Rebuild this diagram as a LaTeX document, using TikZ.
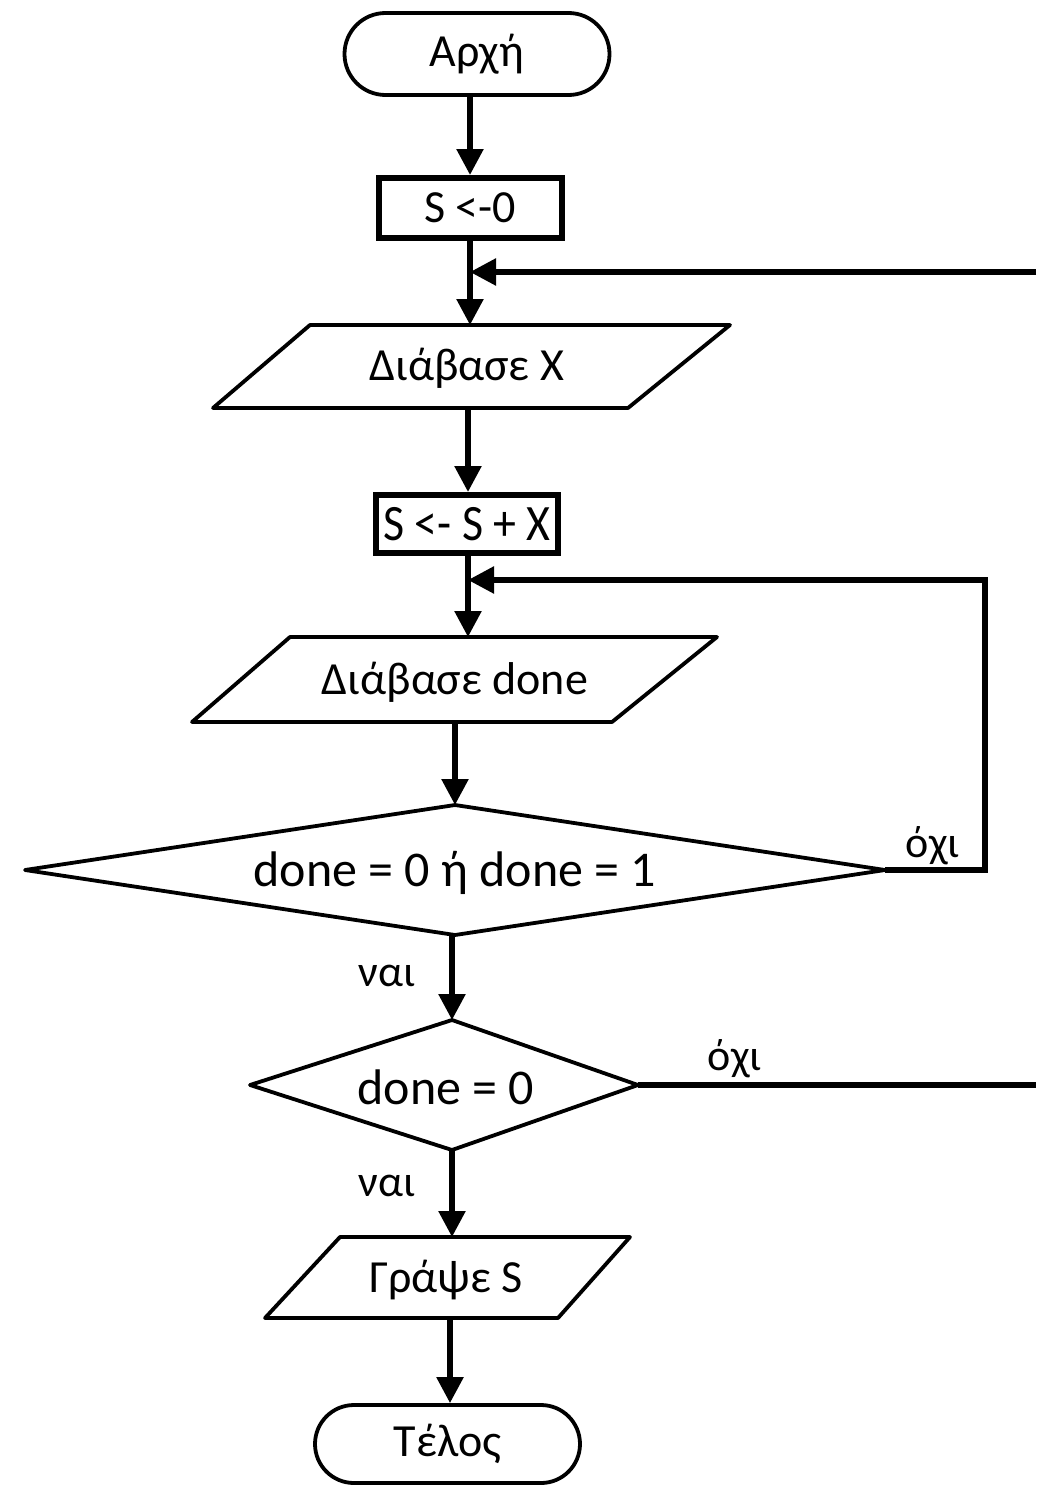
\documentclass[tikz,border=0pt]{standalone}
\usepackage{fontspec}
\setmainfont{Carlito}
\usetikzlibrary{arrows.meta,calc}
\begin{document}
\begin{tikzpicture}[x=1pt,y=-1pt,
  line/.style={line width=5.5pt},
  arr/.style={line width=5.5pt,-{Triangle[width=26pt,length=26pt]}},
  shp/.style={line width=3.8pt,line join=round},
  boxs/.style={draw,line width=6pt,inner sep=0pt,font=\fontsize{46}{50}\selectfont},
  txt/.style={inner sep=0pt,font=\fontsize{46}{50}\selectfont},
  big/.style={inner sep=0pt,font=\fontsize{50}{54}\selectfont},
  lbl/.style={inner sep=0pt,font=\fontsize{44}{48}\selectfont}
]
\useasboundingbox (0,0) rectangle (1036,1485);
\clip (0,0) rectangle (1036,1485);
\fill[white] (0,0) rectangle (1036,1485);

% start
\node[shp,draw,rounded corners=41pt,minimum width=265pt,minimum height=82pt,txt] (start) at (477,54) {Αρχή};
% S <- 0
\node[boxs,minimum width=183pt,minimum height=60pt] (s0) at (470,208) {S <-0};
% parallelogram 1
\coordinate (p1a) at (310,325); \coordinate (p1b) at (730,325);
\coordinate (p1c) at (628,408); \coordinate (p1d) at (213,408);
\draw[shp] (p1a) -- (p1b) -- (p1c) -- (p1d) -- cycle;
\node[txt] (p1) at (467,368) {Διάβασε X};
\coordinate (p1top) at (470,325); \coordinate (p1bot) at (468,408);
% S <- S + X
\node[boxs,minimum width=182pt,minimum height=58pt] (s1) at (467,524) {\scalebox{0.9}[1]{\fontsize{51}{54}\selectfont S <- S + X}};
% parallelogram 2
\coordinate (p2a) at (290,637); \coordinate (p2b) at (717,637);
\coordinate (p2c) at (612,722); \coordinate (p2d) at (192,722);
\draw[shp] (p2a) -- (p2b) -- (p2c) -- (p2d) -- cycle;
\node[txt] (p2) at (455,682) {Διάβασε done};
\coordinate (p2top) at (468,637); \coordinate (p2bot) at (455,722);
% diamond 1
\coordinate (d1t) at (455,805); \coordinate (d1r) at (885,870);
\coordinate (d1b) at (455,935); \coordinate (d1l) at (25,870);
\draw[shp] (d1t) -- (d1r) -- (d1b) -- (d1l) -- cycle;
\node[big] (d1) at (455,873) {done = 0 ή done = 1};
% diamond 2
\coordinate (d2t) at (452,1020); \coordinate (d2r) at (638,1085);
\coordinate (d2b) at (452,1150); \coordinate (d2l) at (250,1085);
\draw[shp] (d2t) -- (d2r) -- (d2b) -- (d2l) -- cycle;
\node[big] (d2) at (446,1087) {done = 0};
% parallelogram 3
\coordinate (p3a) at (340,1237); \coordinate (p3b) at (630,1237);
\coordinate (p3c) at (558,1318); \coordinate (p3d) at (265,1318);
\draw[shp] (p3a) -- (p3b) -- (p3c) -- (p3d) -- cycle;
\node[txt] (p3) at (446,1280) {Γράψε S};
\coordinate (p3top) at (452,1237); \coordinate (p3bot) at (450,1318);
% end
\node[shp,draw,rounded corners=39pt,minimum width=265pt,minimum height=78pt,txt] (end) at (447.5,1444) {Τέλος};

% junctions and corners
\coordinate (j1) at (470,272); \coordinate (e1) at (1036,272);
\coordinate (j2) at (468,580);
\coordinate (c2a) at (985,580); \coordinate (c2b) at (985,870);
\coordinate (e2) at (1036,1085);

% connectors
\draw[arr] (s0 |- start.south) -- (s0.north);
\draw[arr] (s0.south) -- (p1top);
\draw[arr] (e1) -- (j1);
\draw[arr] (p1bot) -- (p1bot |- s1.north);
\draw[arr] (p1bot |- s1.south) -- (p2top);
\draw[arr] (d1r) -- (c2b) -- (c2a) -- (j2);
\draw[arr] (p2bot) -- (d1t);
\draw[arr] (d2t |- d1b) -- (d2t);
\draw[line] (d2r) -- (e2);
\draw[arr] (d2b) -- (p3top);
\draw[arr] (p3bot) -- (end.north -| p3bot);

% labels
\node[lbl] (no1) at (933,846) {όχι};
\node[lbl] (no2) at (735,1059) {όχι};
\node[lbl] (yes1) at (387,976) {ναι};
\node[lbl] (yes2) at (387,1186) {ναι};
\end{tikzpicture}
\end{document}
